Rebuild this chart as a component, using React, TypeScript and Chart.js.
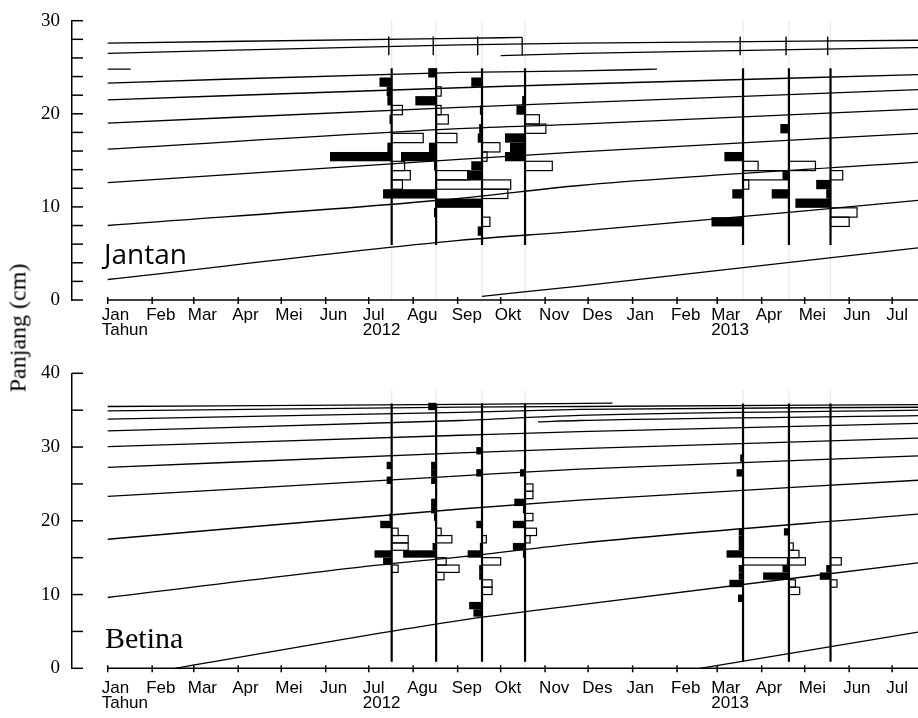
import React, { useEffect, useRef } from 'react';
import { Chart, registerables } from 'chart.js';

Chart.register(...registerables);

// ---------- axis data ----------
const MONTH_TICK_DAYS = [0, 31, 60, 91, 121, 152, 182, 213, 244, 274, 305, 335, 366, 397, 425, 456, 486, 517, 547];
const MONTH_LABELS = ['Jan', 'Feb', 'Mar', 'Apr', 'Mei', 'Jun', 'Jul', 'Agu', 'Sep', 'Okt', 'Nov', 'Des', 'Jan', 'Feb', 'Mar', 'Apr', 'Mei', 'Jun', 'Jul'];
const YEAR_LABELS = ['Tahun', '', '', '', '', '', '2012', '', '', '', '', '', '', '', '2013', '', '', '', ''];
const X_MIN = -24.9;
const X_MAX = 565;

// sampling dates (days since 1 Jan 2012)
const SAMPLE_DAYS = [198, 229, 261, 291, 443, 475, 504];
const CLASS_WIDTH = 1; // cm
const SCORE_DAYS = 10; // horizontal extent (days) of one score unit

// ---------- Jantan (male) ----------
const JANTAN_CURVES: number[][][] = [
  [[0, 27.6], [245, 28.1], [289, 28.2]],
  [[289, 28.2], [289, 26.25]],
  [[274, 26.25], [329, 26.5], [565, 27.1]],
  [[0, 26.5], [245, 27.4], [329, 27.6], [565, 27.9]],
  [[0, 24.8], [16, 24.8]],
  [[0, 23.3], [245, 24.45], [329, 24.6], [383, 24.8]],
  [[0, 21.5], [245, 22.8], [329, 23.2], [565, 24.2]],
  [[0, 19.0], [245, 20.7], [329, 21.2], [565, 22.6]],
  [[0, 16.2], [245, 18.4], [329, 18.9], [565, 20.5]],
  [[0, 12.6], [245, 15.1], [329, 15.9], [565, 17.9]],
  [[0, 8.0], [245, 10.9], [329, 12.3], [565, 14.8]],
  [[0, 2.2], [245, 6.4], [329, 7.4], [565, 10.7]],
  [[261, 0.4], [329, 1.5], [565, 5.6]],
];
const JANTAN_MARK_DAYS = [196, 227, 258, 441, 473, 502];
const JANTAN_MARK_RANGE = [26.3, 28.3];
// [length class mid (cm), score]  score > 0 : black peak, score < 0 : white trough
const JANTAN_S1 = [[23.4, 0.85], [22.4, 0.35], [21.4, 0.3], [20.4, -0.75], [19.4, 0.15], [17.4, -2.2], [16.4, 0.3], [15.4, 4.3], [14.4, -0.9], [13.4, -1.3], [12.4, -0.75]];
const JANTAN_S2 = [[24.4, 0.55], [22.4, -0.35], [21.4, 1.45], [20.4, -0.35], [19.4, -0.85], [17.4, -1.45], [16.4, 0.5], [15.4, 2.45], [14.4, 0.15], [13.4, -2.35], [12.4, -3.2], [11.4, 3.7], [9.4, 0.15]];
const JANTAN_S3 = [[23.4, 0.75], [20.4, 0.15], [18.4, 0.2], [17.4, 0.3], [16.4, -1.25], [15.4, -0.35], [14.4, 0.75], [13.4, 1.05], [12.4, -2.0], [11.4, -1.8], [10.4, 3.2], [8.4, -0.55], [7.4, 0.3]];
const JANTAN_S4 = [[21.4, 0.2], [20.4, 0.6], [19.4, -1.0], [18.4, -1.45], [17.4, 1.4], [16.4, 1.05], [15.4, 1.4], [14.4, -1.9]];
const JANTAN_S5 = [[15.4, 1.3], [14.4, -1.05], [13.4, -3.1], [12.4, -0.4], [11.4, 0.75], [8.4, 2.2]];
const JANTAN_S6 = [[18.4, 0.6], [14.4, -1.85], [13.4, 0.45], [11.4, 1.2]];
const JANTAN_S7 = [[13.4, -0.85], [12.4, 1.0], [11.4, 0.3], [10.4, 2.45], [9.4, -1.85], [8.4, -1.3]];

// ---------- Betina (female) ----------
const BETINA_CURVES: number[][][] = [
  [[0, 35.5], [246, 35.8], [352, 35.95]],
  [[0, 34.9], [246, 35.4], [329, 35.5], [565, 35.75]],
  [[0, 33.8], [246, 34.7], [329, 35.1], [565, 35.4]],
  [[0, 32.2], [246, 33.6], [329, 34.3], [565, 35.0]],
  [[300, 33.4], [329, 33.6], [565, 34.25]],
  [[0, 30.05], [246, 31.6], [329, 32.1], [565, 33.2]],
  [[0, 27.25], [246, 29.2], [329, 29.8], [565, 31.2]],
  [[0, 23.3], [246, 26.1], [329, 27.0], [565, 28.8]],
  [[0, 17.5], [246, 21.6], [329, 22.8], [565, 25.5]],
  [[0, 9.6], [198, 14.2], [246, 15.1], [329, 16.95], [565, 20.9]],
  [[47, 0], [246, 6.5], [329, 8.6], [565, 14.3]],
  [[413, 0], [565, 4.9]],
];
const BETINA_S1 = [[27.5, 0.35], [25.5, 0.35], [20.5, 0.15], [19.5, 0.8], [18.5, -0.45], [17.5, -1.15], [16.5, -1.15], [15.5, 1.2], [14.5, 0.6], [13.5, -0.45]];
const BETINA_S2 = [[35.5, 0.55], [27.5, 0.35], [26.5, 0.35], [25.5, 0.35], [22.5, 0.35], [21.5, 0.35], [20.5, 0.15], [18.5, -0.35], [17.5, -1.1], [16.5, 0.25], [15.5, 2.3], [14.5, -0.7], [13.5, -1.6], [12.5, -0.55]];
const BETINA_S3 = [[29.5, 0.4], [26.5, 0.4], [19.5, 0.4], [17.5, -0.3], [16.5, 0.15], [15.5, 1.0], [14.5, -1.3], [13.5, 0.2], [12.5, 0.2], [11.5, -0.7], [10.5, -0.7], [8.5, 0.9], [7.5, 0.6]];
const BETINA_S4 = [[26.5, 0.35], [24.5, -0.55], [23.5, -0.55], [22.5, 0.75], [21.5, 0.15], [20.5, -0.55], [19.5, 0.85], [18.5, -0.8], [17.5, -0.35], [16.5, 0.85], [15.5, 0.15]];
const BETINA_S5 = [[28.5, 0.2], [26.5, 0.45], [18.5, 0.3], [17.5, 0.3], [16.5, 0.3], [15.5, 1.15], [14.5, -3.1], [13.5, 0.3], [12.5, 0.3], [11.5, 0.95], [9.5, 0.35]];
const BETINA_S6 = [[18.5, 0.35], [16.5, -0.3], [15.5, -0.7], [14.5, -1.15], [13.5, 0.45], [12.5, 1.8], [11.5, -0.45], [10.5, -0.75]];
const BETINA_S7 = [[14.5, -0.75], [13.5, 0.3], [12.5, 0.75], [11.5, -0.45]];

interface PanelSpec {
  name: string;
  nameFont: string;
  nameOffset: number[];
  yMax: number;
  yStep: number;
  curves: number[][][];
  bars: number[][][];
  sampleRange: number[];
  faintTop: number;
  marks: number[];
  markRange: number[];
  canvasHeight: number;
  padTop: number;
  xAxisHeight: number;
  labelPad: number;
}

const TOP_SPEC: PanelSpec = {
  name: 'Jantan',
  nameFont: '28px "Open Sans", "Noto Sans", sans-serif',
  nameOffset: [32, 36],
  yMax: 30,
  yStep: 2,
  curves: JANTAN_CURVES,
  bars: [JANTAN_S1, JANTAN_S2, JANTAN_S3, JANTAN_S4, JANTAN_S5, JANTAN_S6, JANTAN_S7],
  sampleRange: [5.9, 24.9],
  faintTop: 30,
  marks: JANTAN_MARK_DAYS,
  markRange: JANTAN_MARK_RANGE,
  canvasHeight: 345,
  padTop: 20.7,
  xAxisHeight: 45,
  labelPad: 8,
};

const BOTTOM_SPEC: PanelSpec = {
  name: 'Betina',
  nameFont: '30px "Liberation Serif", "Times New Roman", serif',
  nameOffset: [33, 20],
  yMax: 40,
  yStep: 5,
  curves: BETINA_CURVES,
  bars: [BETINA_S1, BETINA_S2, BETINA_S3, BETINA_S4, BETINA_S5, BETINA_S6, BETINA_S7],
  sampleRange: [0.9, 35.9],
  faintTop: 37.7,
  marks: [],
  markRange: [0, 0],
  canvasHeight: 373,
  padTop: 28.3,
  xAxisHeight: 49.7,
  labelPad: 13,
};

function buildConfig(spec: PanelSpec): any {
  const decor = {
    id: 'decor',
    beforeDatasetsDraw(chart: any) {
      const { ctx } = chart;
      const x = chart.scales.x;
      const y = chart.scales.y;
      ctx.save();
      // faint guide lines at sampling dates
      ctx.strokeStyle = '#e8e8e8';
      ctx.lineWidth = 1.2;
      for (const d of SAMPLE_DAYS) {
        const px = x.getPixelForValue(d);
        ctx.beginPath();
        ctx.moveTo(px, y.getPixelForValue(0));
        ctx.lineTo(px, y.getPixelForValue(spec.faintTop));
        ctx.stroke();
      }
      const rects: { l: number; t: number; w: number; h: number; black: boolean }[] = [];
      spec.bars.forEach((list, i) => {
        const d = SAMPLE_DAYS[i];
        const xa = x.getPixelForValue(d);
        for (const [len, score] of list) {
          const yt = y.getPixelForValue(len + CLASS_WIDTH / 2);
          const yb = y.getPixelForValue(len - CLASS_WIDTH / 2);
          const xb = x.getPixelForValue(d - score * SCORE_DAYS);
          rects.push({ l: Math.min(xa, xb), t: yt, w: Math.abs(xb - xa), h: yb - yt, black: score > 0 });
        }
      });
      ctx.fillStyle = '#fff';
      rects.filter(r => !r.black).forEach(r => ctx.fillRect(r.l, r.t, r.w, r.h));
      ctx.strokeStyle = '#000';
      ctx.lineWidth = 1.2;
      rects.filter(r => !r.black).forEach(r => ctx.strokeRect(r.l, r.t, r.w, r.h));
      ctx.fillStyle = '#000';
      rects.filter(r => r.black).forEach(r => ctx.fillRect(r.l, r.t, r.w, r.h));
      ctx.restore();
    },
    afterDraw(chart: any) {
      const { ctx, chartArea } = chart;
      const x = chart.scales.x;
      const y = chart.scales.y;
      ctx.save();
      ctx.strokeStyle = '#000';
      ctx.lineWidth = 1.5;
      const yb = chartArea.bottom;
      ctx.beginPath();
      ctx.moveTo(x.getPixelForValue(0), yb);
      ctx.lineTo(chartArea.right, yb);
      ctx.stroke();
      for (const t of x.ticks) {
        const px = x.getPixelForValue(t.value);
        ctx.beginPath();
        ctx.moveTo(px, yb - 3);
        ctx.lineTo(px, yb + 4);
        ctx.stroke();
      }
      for (const t of y.ticks) {
        const py = y.getPixelForValue(t.value);
        ctx.beginPath();
        ctx.moveTo(chartArea.left, py);
        ctx.lineTo(chartArea.left + 11, py);
        ctx.stroke();
      }
      ctx.fillStyle = '#000';
      ctx.font = spec.nameFont;
      ctx.textBaseline = 'alphabetic';
      ctx.textAlign = 'left';
      ctx.fillText(spec.name, chartArea.left + spec.nameOffset[0], chartArea.bottom - spec.nameOffset[1]);
      ctx.restore();
    },
  };

  const datasets: any[] = [];
  SAMPLE_DAYS.forEach(d => {
    datasets.push({
      data: [{ x: d, y: spec.sampleRange[0] }, { x: d, y: spec.sampleRange[1] }],
      borderColor: '#000',
      borderWidth: 2.2,
      pointRadius: 0,
      order: 1,
    });
  });
  spec.marks.forEach(d => {
    datasets.push({
      data: [{ x: d, y: spec.markRange[0] }, { x: d, y: spec.markRange[1] }],
      borderColor: '#000',
      borderWidth: 1.4,
      pointRadius: 0,
      order: 2,
    });
  });
  spec.curves.forEach(c => {
    const smooth = c.length > 2;
    datasets.push({
      data: c.map(([dx, dy]) => ({ x: dx, y: dy })),
      borderColor: '#000',
      borderWidth: 1.3,
      pointRadius: 0,
      tension: smooth ? 0.4 : 0,
      cubicInterpolationMode: smooth ? 'monotone' : 'default',
      order: 3,
    });
  });

  return {
    type: 'line',
    data: { datasets },
    options: {
      responsive: false,
      animation: false,
      events: [],
      layout: { padding: { top: spec.padTop, right: 0, bottom: 0, left: 0 } },
      plugins: { legend: { display: false }, tooltip: { enabled: false }, title: { display: false } },
      scales: {
        x: {
          type: 'linear',
          min: X_MIN,
          max: X_MAX,
          grid: { display: false, drawTicks: false },
          border: { display: false },
          afterBuildTicks: (s: any) => {
            s.ticks = MONTH_TICK_DAYS.map(v => ({ value: v }));
          },
          afterFit: (s: any) => {
            s.height = spec.xAxisHeight;
            s.paddingLeft = 0;
            s.paddingRight = 0;
          },
          ticks: {
            autoSkip: false,
            maxRotation: 0,
            minRotation: 0,
            align: 'start',
            labelOffset: -6,
            padding: spec.labelPad,
            color: '#000',
            font: { family: '"Liberation Sans", Arial, sans-serif', size: 17, lineHeight: 0.87 },
            callback: (v: number) => {
              const i = MONTH_TICK_DAYS.indexOf(v);
              if (i < 0) return '';
              return YEAR_LABELS[i] ? [MONTH_LABELS[i], YEAR_LABELS[i]] : MONTH_LABELS[i];
            },
          },
        },
        y: {
          type: 'linear',
          min: 0,
          max: spec.yMax,
          grid: { display: false, drawTicks: false },
          border: { display: true, color: '#000', width: 1.5 },
          afterFit: (s: any) => {
            s.width = 72;
            s.paddingTop = 0;
            s.paddingBottom = 0;
          },
          ticks: {
            stepSize: spec.yStep,
            autoSkip: false,
            padding: 12,
            color: '#000',
            font: { family: '"Liberation Serif", "Times New Roman", serif', size: 19 },
            callback: (v: number) => (v % 10 === 0 ? String(v) : ''),
          },
        },
      },
    },
    plugins: [decor],
  };
}

function Panel({ spec, top }: { spec: PanelSpec; top: number }) {
  const ref = useRef<HTMLCanvasElement | null>(null);
  useEffect(() => {
    if (!ref.current) return;
    const chart = new Chart(ref.current, buildConfig(spec));
    return () => chart.destroy();
  }, [spec]);
  return (
    <canvas
      ref={ref}
      width={918}
      height={spec.canvasHeight}
      style={{ position: 'absolute', left: 0, top, width: 918, height: spec.canvasHeight, display: 'block' }}
    />
  );
}

export default function App() {
  return (
    <div style={{ position: 'fixed', left: 0, top: 0, width: 918, height: 718, background: '#fff', overflow: 'hidden' }}>
      <Panel spec={TOP_SPEC} top={0} />
      <Panel spec={BOTTOM_SPEC} top={345} />
      <div
        style={{
          position: 'absolute',
          left: 18,
          top: 328,
          transform: 'translate(-50%, -50%) rotate(-90deg)',
          fontFamily: '"Liberation Serif", "Times New Roman", serif',
          fontSize: 24,
          whiteSpace: 'nowrap',
          color: '#000',
        }}
      >
        Panjang (cm)
      </div>
    </div>
  );
}
